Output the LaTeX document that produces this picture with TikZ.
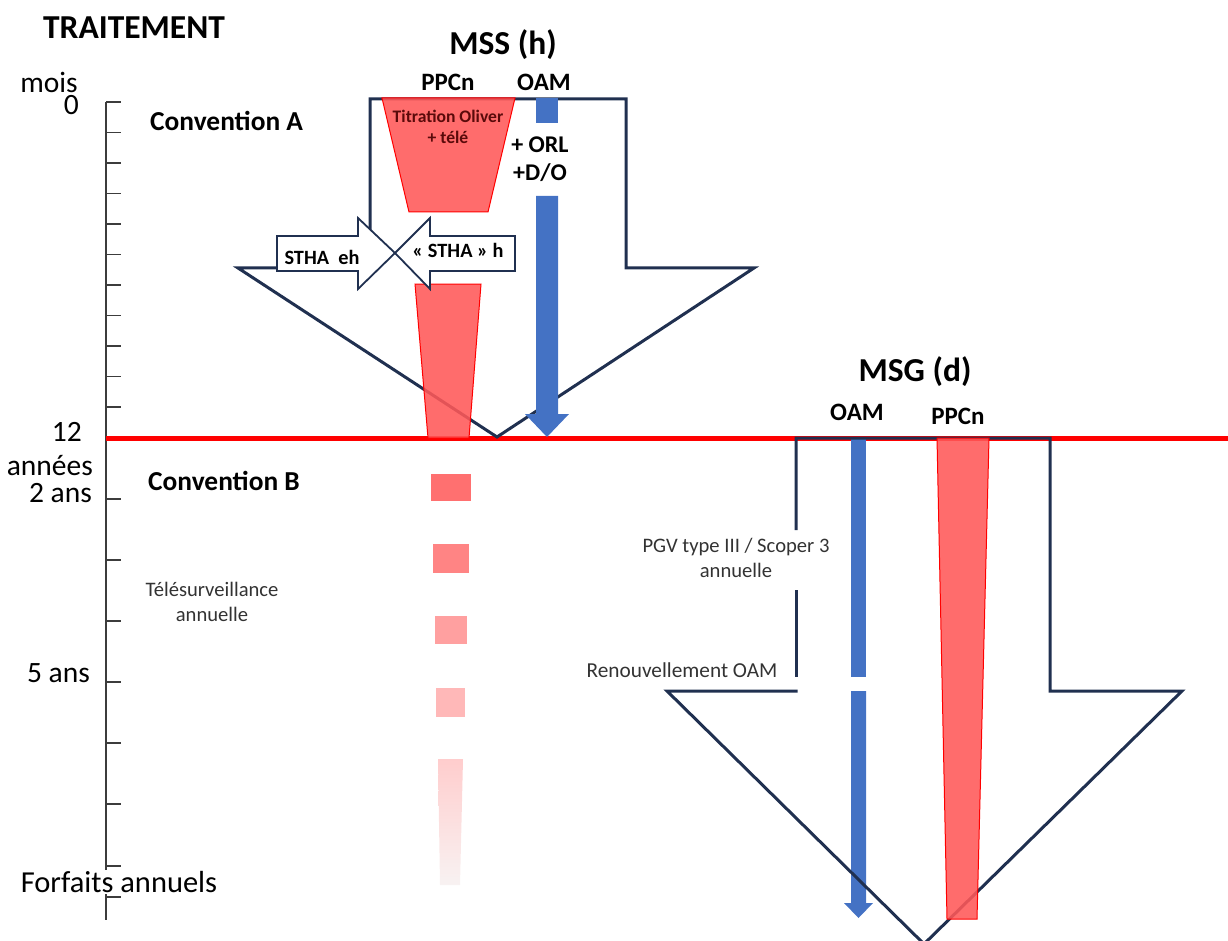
\documentclass[tikz,border=0pt]{standalone}
\usepackage{fontspec}
\setmainfont{Carlito}
\definecolor{navy}{RGB}{32,48,80}
\definecolor{oamblue}{RGB}{68,114,196}
\definecolor{ppc}{RGB}{255,88,88}
\definecolor{axisgray}{RGB}{60,60,60}
\definecolor{darkred}{RGB}{90,10,10}
\definecolor{fadeA}{RGB}{255,112,112}
\definecolor{fadeB}{RGB}{255,132,132}
\definecolor{fadeC}{RGB}{255,160,160}
\definecolor{fadeD}{RGB}{255,184,184}
\definecolor{fadeE}{RGB}{255,205,205}
\definecolor{fadeF}{RGB}{248,242,242}
\begin{document}
\begin{tikzpicture}[x=1pt,y=-1pt,
  outline/.style={draw=navy, line width=3pt, line join=miter},
  ppcshape/.style={fill=ppc, fill opacity=0.88, draw=red, line width=1pt},
  oambar/.style={fill=oamblue, draw=none},
  sthashape/.style={draw=navy, fill=white, line width=1.8pt, line join=miter},
  axisline/.style={draw=axisgray, line width=1.3pt},
  axlbl/.style={inner sep=0pt, font=\fontsize{29.5}{32}\selectfont},
  title/.style={inner sep=0pt, font=\bfseries\fontsize{33.5}{36}\selectfont},
  conv/.style={inner sep=0pt, anchor=west, font=\bfseries\fontsize{27.4}{30}\selectfont},
  head/.style={inner sep=0pt, font=\bfseries\fontsize{25}{28}\selectfont},
  small/.style={inner sep=0pt, align=center, font=\fontsize{20.6}{24.5}\selectfont, text=black!80},
  sthatxt/.style={inner sep=0pt, font=\bfseries\fontsize{20.3}{24}\selectfont}
]
\useasboundingbox (0,0) rectangle (1228,941);

% time axis
\draw[axisline] (106,102) -- (106,920);
\foreach \k in {0,...,11} \draw[axisline] (106,{102+\k*30.5}) -- (121,{102+\k*30.5});
\foreach \yy in {499,560,621,682,743,804,866,897} \draw[axisline] (106,\yy) -- (121,\yy);

% red limit line
\draw[red, line width=5pt] (106,438) -- (1228,438);

% MSS big arrow
\draw[outline] (370,99) -- (626,99) -- (626,268) -- (754,268) -- (497,437) -- (238,268) -- (370,268) -- cycle;

% MSS PPCn shapes
\draw[ppcshape] (382,98) -- (515,98) -- (488,212) -- (409,212) -- cycle;
\draw[ppcshape] (415,284) -- (481,284) -- (469,438) -- (428,438) -- cycle;

% STHA arrows
\draw[sthashape] (277,236) -- (358,236) -- (358,218) -- (395,253) -- (358,289) -- (358,271) -- (277,271) -- cycle;
\draw[sthashape] (515,236) -- (430,236) -- (430,218) -- (395,253) -- (430,289) -- (430,271) -- (515,271) -- cycle;

% MSS OAM bar
\fill[oambar] (536,98) rectangle (558,123);
\fill[oambar] (536,196) -- (558,196) -- (558,414) -- (569,414) -- (547,437) -- (525,414) -- (536,414) -- cycle;

% MSG OAM bar
\fill[oambar] (851,438) rectangle (866,677);
\fill[oambar] (851,691) -- (866,691) -- (866,903) -- (873,903) -- (858.5,918) -- (844,903) -- (851,903) -- cycle;

% MSG big arrow
\draw[outline] (796,530) -- (796,438) -- (1050,438) -- (1050,691) -- (1182,691) -- (924,944) -- (667,691) -- (797.5,691);
\draw[outline] (796,590) -- (796,677);

% MSG PPCn bar
\draw[ppcshape] (937,438) -- (989,438) -- (977,919) -- (947,919) -- cycle;

% fading annual sessions
\fill[fadeA] (431,474) rectangle (471,501);
\fill[fadeB] (433,544) rectangle (469,573);
\fill[fadeC] (435,616) rectangle (467,644);
\fill[fadeD] (436,688) rectangle (465,717);
\shade[top color=fadeE, bottom color=fadeF] (438,759) -- (463,759) -- (460,885) -- (440,885) -- cycle;

% texts
\node[title] (trait) at (134,28) {TRAITEMENT};
\node[axlbl] (mois) at (49,82) {mois};
\node[axlbl, anchor=east] (zero) at (79,105) {0};
\node[conv] (convA) at (150,121) {Convention A};
\node[title] (mss) at (503,45) {MSS (h)};
\node[head] (ppc1) at (448,82) {PPCn};
\node[head] (oam1) at (544,82) {OAM};
\node[inner sep=0pt, align=center, text=darkred, font=\bfseries\fontsize{17.6}{20.5}\selectfont] (titr) at (448,127) {Titration Oliver\\+ télé};
\node[inner sep=0pt, align=center, font=\bfseries\fontsize{24}{28}\selectfont] (orl) at (540,159) {+ ORL\\+D/O};
\node[sthatxt] (sthaeh) at (322,257) {STHA~ eh};
\node[sthatxt] (sthah) at (458,250) {« STHA » h};

\node[axlbl, anchor=east] (douze) at (82,432) {12};
\node[axlbl, anchor=east] (annees) at (93,466) {années};
\node[axlbl, anchor=east] (deux) at (92,493) {2 ans};
\node[conv] (convB) at (148,481) {Convention B};
\node[small] (tele) at (212,602) {Télésurveillance\\annuelle};
\node[axlbl, anchor=east] (cinq) at (90,673) {5 ans};
\node[axlbl, fill=white, inner sep=1pt, font=\fontsize{30.5}{33}\selectfont] (forf) at (119,882) {Forfaits annuels};

\node[title] (msg) at (915,372) {MSG (d)};
\node[head] (oam2) at (857,412) {OAM};
\node[head] (ppc2) at (958,416) {PPCn};
\node[small] (pgv) at (736,558) {PGV type III / Scoper 3\\annuelle};
\node[small, font=\fontsize{21.3}{24.5}\selectfont] (renouv) at (682,670) {Renouvellement OAM};
\end{tikzpicture}
\end{document}
